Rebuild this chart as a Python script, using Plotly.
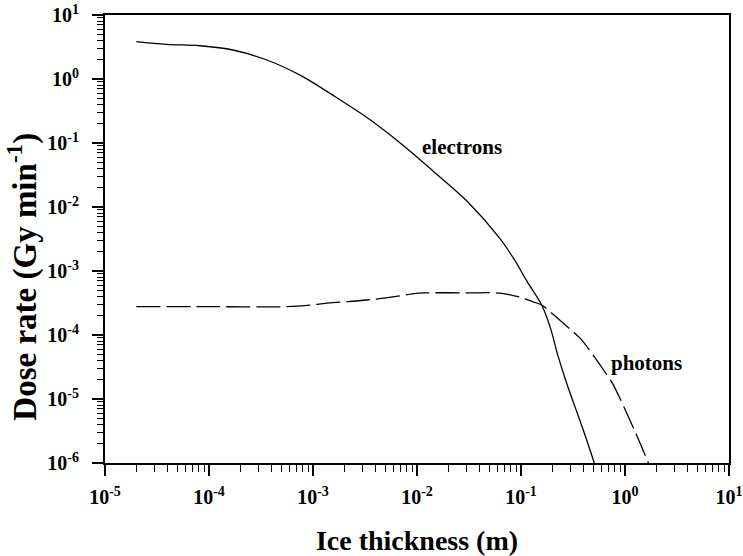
import plotly.graph_objects as go

# Data
electron_x = [2e-5, 3.9e-5, 8.2e-5, 1.7e-4, 3.6e-4, 7.5e-4, 1.55e-3, 3.3e-3, 6.9e-3,
              1.44e-2, 3.0e-2, 6.28e-2, 0.0875, 0.1135, 0.158, 0.19, 0.228, 0.275,
              0.33, 0.397, 0.507]
electron_y = [3.83, 3.48, 3.31, 2.84, 1.98, 1.15, 0.56, 0.25, 0.10,
              0.036, 0.0125, 3.2e-3, 1.45e-3, 7.0e-4, 2.94e-4, 1.35e-4, 4.6e-5, 1.76e-5,
              7.6e-6, 3.28e-6, 1.0e-6]

photon_x = [2e-5, 1e-4, 6.4e-4, 1.55e-3, 3.3e-3, 6.9e-3, 9e-3, 1.2e-2, 3e-2, 6.28e-2,
            0.098, 0.131, 0.158, 0.19, 0.343, 0.383, 0.706, 0.772, 1.248, 1.68]
photon_y = [2.77e-4, 2.77e-4, 2.8e-4, 3.2e-4, 3.52e-4, 4.1e-4, 4.4e-4, 4.55e-4, 4.55e-4, 4.5e-4,
            3.89e-4, 3.3e-4, 2.94e-4, 2.32e-4, 1.0e-4, 8.4e-5, 2.1e-5, 1.66e-5, 3.1e-6, 1.0e-6]

x_tickvals = [1e-5, 1e-4, 1e-3, 1e-2, 1e-1, 1e0, 1e1]
x_ticktext = ["<b>10<sup>-5</sup></b>", "<b>10<sup>-4</sup></b>", "<b>10<sup>-3</sup></b>",
              "<b>10<sup>-2</sup></b>", "<b>10<sup>-1</sup></b>", "<b>10<sup>0</sup></b>",
              "<b>10<sup>1</sup></b>"]
y_tickvals = [1e-6, 1e-5, 1e-4, 1e-3, 1e-2, 1e-1, 1e0, 1e1]
y_ticktext = ["<b>10<sup>-6</sup></b>", "<b>10<sup>-5</sup></b>", "<b>10<sup>-4</sup></b>",
              "<b>10<sup>-3</sup></b>", "<b>10<sup>-2</sup></b>", "<b>10<sup>-1</sup></b>",
              "<b>10<sup>0</sup></b>", "<b>10<sup>1</sup></b>"]

FONT = "Liberation Serif, Times New Roman, serif"

def minor_vals(lo, hi):
    vals = []
    for e in range(lo, hi):
        for m in range(2, 10):
            vals.append(m * 10.0 ** e)
    return vals

fig = go.Figure()
fig.add_trace(go.Scatter(x=electron_x, y=electron_y, mode="lines",
                         line=dict(color="black", width=1.3, shape="spline", smoothing=1.0),
                         showlegend=False, hoverinfo="skip"))
fig.add_trace(go.Scatter(x=photon_x, y=photon_y, mode="lines",
                         line=dict(color="black", width=1.3, dash="24px,6px", shape="spline", smoothing=1.0),
                         showlegend=False, hoverinfo="skip"))

fig.add_annotation(x=-1.57, y=-1.06, xref="x", yref="y", text="<b>electrons</b>",
                   showarrow=False, font=dict(family=FONT, size=21, color="black"))
fig.add_annotation(x=0.208, y=-4.44, xref="x", yref="y", text="<b>photons</b>",
                   showarrow=False, font=dict(family=FONT, size=21, color="black"))

# y-axis title placed as rotated annotation (offset below plot centre as in reference)
fig.add_annotation(x=0, y=0.416, xref="paper", yref="paper", xanchor="center", yanchor="middle",
                   xshift=-82, textangle=-90, showarrow=False,
                   text="<b>Dose rate (Gy min<sup>-1</sup>)</b>",
                   font=dict(family=FONT, size=33, color="black"))

axis_common = dict(
    type="log", showgrid=False, zeroline=False, automargin=False,
    showline=True, linecolor="black", linewidth=2, mirror=True,
    ticks="outside", ticklen=11, tickwidth=1.5, tickcolor="black",
    tickfont=dict(family=FONT, size=20, color="black"),
)

fig.update_xaxes(**axis_common, range=[-5, 1], tickmode="array",
                 tickvals=x_tickvals, ticktext=x_ticktext, ticklabelstandoff=4,
                 minor=dict(ticks="outside", ticklen=7, tickwidth=1.2, tickcolor="black",
                            tickmode="array", tickvals=minor_vals(-5, 1)),
                 title=dict(text="<b>Ice thickness (m)</b>", standoff=23,
                            font=dict(family=FONT, size=28, color="black")))
fig.update_yaxes(**axis_common, range=[-6, 1], tickmode="array",
                 tickvals=y_tickvals, ticktext=y_ticktext, ticklabelstandoff=9,
                 minor=dict(ticks="outside", ticklen=6, tickwidth=1.2, tickcolor="black",
                            tickmode="array", tickvals=minor_vals(-6, 1)))

fig.update_layout(width=743, height=556, margin=dict(l=105, r=14, t=15, b=93),
                  plot_bgcolor="white", paper_bgcolor="white")

fig.write_html("out.html", config={"displayModeBar": False},
               post_script="document.body.style.margin='0';document.body.style.padding='0';")
